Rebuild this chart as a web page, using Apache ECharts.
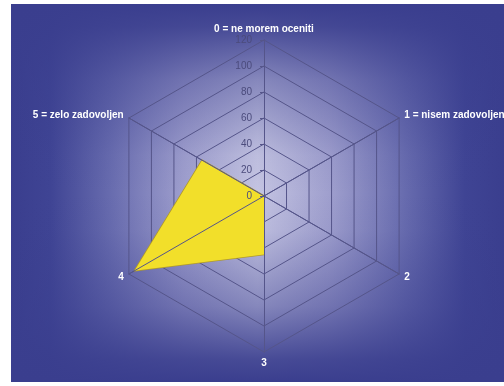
<!DOCTYPE html>
<html>
<head>
<meta charset="utf-8">
<script src="https://cdn.jsdelivr.net/npm/echarts@6/dist/echarts.min.js"></script>
<style>
  html, body { margin: 0; padding: 0; background: #fff; }
  #chart { width: 504px; height: 386px; }
</style>
</head>
<body>
<div id="chart"></div>
<script>
// axis names, clockwise from the top
var categories = ['0 = ne morem oceniti', '1 = nisem zadovoljen', '2', '3', '4', '5 = zelo zadovoljen'];
var values = [0, 0, 0, 45, 115, 55];
var axisMin = 0;
var axisMax = 120;

// echarts lays radar indicators out counter-clockwise, so flip the order after the first one
var order = [0, 5, 4, 3, 2, 1];

var chart = echarts.init(document.getElementById('chart'), null, { renderer: 'canvas' });

var gridColor = '#55558a';

function makeIndicators(withLabels) {
  return order.map(function (i) {
    var ind = { name: withLabels ? '' : categories[i], min: axisMin, max: axisMax };
    if (withLabels && i === 0) {
      ind.axisLabel = { show: true, showMinLabel: true, color: '#4b4b7c', fontSize: 10, fontFamily: 'Liberation Sans', margin: 12 };
      ind.axisTick = { show: true, length: 4, lineStyle: { color: gridColor } };
    }
    return ind;
  });
}

var option = {
  animation: false,
  graphic: [
    {
      type: 'rect', z: -10, silent: true,
      shape: { x: 11, y: 4, width: 493, height: 378 },
      style: {
        fill: new echarts.graphic.LinearGradient(0, 0, 1, 0, [
          { offset: 0, color: '#3a3e8e' },
          { offset: 0.08, color: '#3f4494' },
          { offset: 0.2, color: '#676bae' },
          { offset: 0.35, color: '#9e9ecd' },
          { offset: 0.5, color: '#c4c4e2' },
          { offset: 0.65, color: '#9e9ecd' },
          { offset: 0.8, color: '#676bae' },
          { offset: 0.92, color: '#3f4494' },
          { offset: 1, color: '#3a3e8e' }
        ])
      }
    },
    {
      type: 'rect', z: -9, silent: true,
      shape: { x: 11, y: 4, width: 493, height: 378 },
      style: {
        fill: new echarts.graphic.LinearGradient(0, 0, 0, 1, [
          { offset: 0, color: 'rgba(58,62,142,1)' },
          { offset: 0.06, color: 'rgba(58,62,142,0.9)' },
          { offset: 0.2, color: 'rgba(58,62,142,0.45)' },
          { offset: 0.4, color: 'rgba(58,62,142,0.05)' },
          { offset: 0.5, color: 'rgba(58,62,142,0)' },
          { offset: 0.6, color: 'rgba(58,62,142,0.05)' },
          { offset: 0.8, color: 'rgba(58,62,142,0.45)' },
          { offset: 0.94, color: 'rgba(58,62,142,0.9)' },
          { offset: 1, color: 'rgba(58,62,142,1)' }
        ])
      }
    }
  ],
  radar: [
    {
      // grid rings and axis names, behind the area
      center: [264, 196],
      radius: 156,
      startAngle: 90,
      splitNumber: 6,
      shape: 'polygon',
      nameGap: 6,
      axisName: { color: '#ffffff', fontSize: 10, fontWeight: 'bold', fontFamily: 'Liberation Sans' },
      splitLine: { lineStyle: { color: gridColor, width: 1 } },
      splitArea: { show: false },
      axisLine: { lineStyle: { color: gridColor, width: 1 } },
      axisLabel: { show: false },
      axisTick: { show: false },
      indicator: makeIndicators(false)
    },
    {
      // axis spokes and value labels, drawn over the area
      z: 5,
      center: [264, 196],
      radius: 156,
      startAngle: 90,
      splitNumber: 6,
      shape: 'polygon',
      axisName: { show: false },
      splitLine: { show: false },
      splitArea: { show: false },
      axisLine: { lineStyle: { color: gridColor, width: 1 } },
      axisLabel: { show: false },
      axisTick: { show: false },
      indicator: makeIndicators(true)
    }
  ],
  series: [
    {
      type: 'radar',
      radarIndex: 0,
      symbol: 'none',
      lineStyle: { color: '#b09a2a', width: 1.5 },
      areaStyle: { color: '#f2df2a', opacity: 1 },
      data: [{ value: order.map(function (i) { return values[i]; }), name: 'ocena' }]
    }
  ]
};

option && chart.setOption(option);
</script>
</body>
</html>
